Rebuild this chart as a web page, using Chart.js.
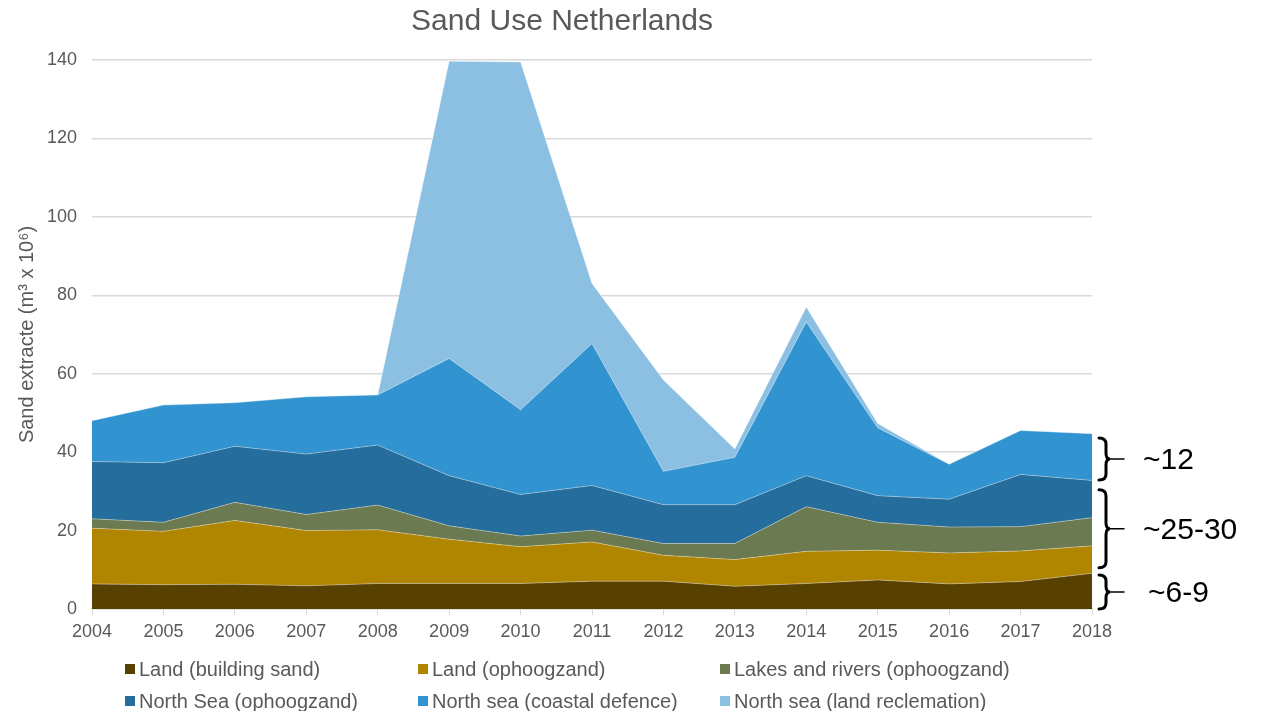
<!DOCTYPE html>
<html lang="en">
<head>
    <meta charset="UTF-8">
    <title>Sand Use Netherlands</title>
    <script src="https://cdn.jsdelivr.net/npm/chart.js"></script>
    <style>
        html, body {
            margin: 0;
            padding: 0;
            background: #ffffff;
        }
        #wrap {
            position: relative;
            width: 1266px;
            height: 711px;
        }
    </style>
</head>
<body>
    <div id="wrap">
        <canvas id="sandChart" width="1266" height="711"></canvas>
    </div>

    <script>
        // data (m3 x 10^6)
        const years = ['2004', '2005', '2006', '2007', '2008', '2009', '2010', '2011',
                       '2012', '2013', '2014', '2015', '2016', '2017', '2018'];
        const landBuilding   = [6.4, 6.2, 6.3, 5.9, 6.5, 6.5, 6.5, 7.1, 7.1, 5.8, 6.5, 7.4, 6.4, 7.0, 9.1];
        const landOphoog     = [14.2, 13.6, 16.3, 14.1, 13.7, 11.3, 9.4, 10.0, 6.6, 6.8, 8.2, 7.6, 7.9, 7.8, 7.0];
        const lakesRivers    = [2.4, 2.3, 4.6, 4.1, 6.3, 3.4, 2.7, 3.0, 3.0, 4.1, 11.4, 7.1, 6.6, 6.2, 7.2];
        const northSeaOphoog = [14.6, 15.2, 14.3, 15.4, 15.3, 12.8, 10.6, 11.4, 9.9, 9.9, 7.9, 6.8, 7.1, 13.3, 9.5];
        const coastalDefence = [10.4, 14.7, 11.1, 14.6, 12.8, 29.9, 21.6, 36.2, 8.5, 12.1, 39.2, 17.3, 8.9, 11.2, 11.9];
        const landReclaim    = [0, 0, 0, 0, 0, 75.8, 88.7, 15.3, 23.3, 2.1, 3.8, 1.1, 0, 0, 0];
        const yTicks = [0, 20, 40, 60, 80, 100, 120, 140];

        const seriesNames = ['Land (building sand)', 'Land (ophoogzand)', 'Lakes and rivers (ophoogzand)',
                             'North Sea (ophoogzand)', 'North sea (coastal defence)', 'North sea (land reclemation)'];
        const seriesData = [landBuilding, landOphoog, lakesRivers, northSeaOphoog, coastalDefence, landReclaim];
        const seriesColors = ['#584100', '#b08500', '#6b7a50', '#256d9c', '#3193d0', '#8bc0e3'];

        // bracket notes on the right side: [from, to, text]
        const braceNotes = [
            [43.6, 32.9, '~12'],
            [30.4, 10.5, '~25-30'],
            [8.7, 0, '~6-9']
        ];

        const FONT = '"Liberation Sans", Arial, sans-serif';
        const GREY = '#595959';

        const datasets = seriesData.map((d, i) => ({
            label: seriesNames[i],
            data: d,
            backgroundColor: seriesColors[i],
            borderColor: 'rgba(255,255,255,0.35)',
            borderWidth: 1,
            fill: i === 0 ? 'origin' : '-1',
            pointRadius: 0,
            tension: 0
        }));

        // title, legend and the bracket notes
        const extras = {
            id: 'extras',
            afterDraw(chart) {
                const ctx = chart.ctx;
                const y = chart.scales.y;
                ctx.save();

                ctx.fillStyle = GREY;
                ctx.font = '30px ' + FONT;
                ctx.textAlign = 'center';
                ctx.textBaseline = 'middle';
                ctx.fillText('Sand Use Netherlands', 562, 22);

                // legend, 2 rows x 3 columns
                const colX = [125, 418, 720];
                const rowY = [669, 701];
                ctx.font = '20px ' + FONT;
                ctx.textAlign = 'left';
                seriesNames.forEach((name, i) => {
                    const cx = colX[i % 3];
                    const cy = rowY[Math.floor(i / 3)];
                    ctx.fillStyle = seriesColors[i];
                    ctx.fillRect(cx, cy - 5, 10, 10);
                    ctx.fillStyle = GREY;
                    ctx.fillText(name, cx + 14, cy + 1);
                });

                // braces
                ctx.strokeStyle = '#000';
                ctx.fillStyle = '#000';
                ctx.lineWidth = 3;
                ctx.lineCap = 'round';
                ctx.font = '30px ' + FONT;
                braceNotes.forEach(([a, b, txt]) => {
                    const y1 = y.getPixelForValue(a);
                    const y2 = y.getPixelForValue(b);
                    const ym = (y1 + y2) / 2;
                    const x = 1099, w = 7, tip = 18, r = 6;
                    ctx.beginPath();
                    ctx.moveTo(x, y1);
                    ctx.quadraticCurveTo(x + w, y1, x + w, y1 + r);
                    ctx.lineTo(x + w, ym - r);
                    ctx.quadraticCurveTo(x + w, ym, x + w + 4, ym);
                    ctx.quadraticCurveTo(x + w, ym, x + w, ym + r);
                    ctx.lineTo(x + w, y2 - r);
                    ctx.quadraticCurveTo(x + w, y2, x, y2);
                    ctx.stroke();
                    ctx.lineWidth = 1.5;
                    ctx.beginPath();
                    ctx.moveTo(x + w + 2, ym);
                    ctx.lineTo(x + w + tip, ym);
                    ctx.stroke();
                    ctx.lineWidth = 3;
                    ctx.fillText(txt, txt === '~6-9' ? 1148 : 1143, ym + 2);
                });
                ctx.restore();
            }
        };

        new Chart(document.getElementById('sandChart'), {
            type: 'line',
            data: { labels: years, datasets: datasets },
            options: {
                responsive: false,
                animation: false,
                layout: { padding: { left: 0, right: 174, top: 60, bottom: 0 } },
                plugins: {
                    legend: { display: false },
                    title: { display: false },
                    tooltip: { enabled: false }
                },
                scales: {
                    x: {
                        offset: false,
                        grid: { drawOnChartArea: false, drawTicks: true, tickLength: 6, color: '#d9d9d9' },
                        border: { color: '#d9d9d9', width: 1.5 },
                        ticks: { color: GREY, font: { family: FONT, size: 18 }, padding: 6, maxRotation: 0, autoSkip: false },
                        afterFit(s) { s.height = 102; }
                    },
                    y: {
                        stacked: true,
                        min: 0,
                        max: 140,
                        afterBuildTicks(s) { s.ticks = yTicks.map(v => ({ value: v })); },
                        grid: { color: '#d9d9d9', lineWidth: 1.5, drawTicks: false },
                        border: { display: false },
                        ticks: { color: GREY, font: { family: FONT, size: 18 }, padding: 15 },
                        title: {
                            display: true,
                            text: 'Sand extracte (m\u00B3 x 10\u2076)',
                            color: GREY,
                            font: { family: FONT, size: 20 },
                            padding: { top: 15, bottom: 0 }
                        },
                        afterFit(s) { s.width = 92; }
                    }
                }
            },
            plugins: [extras]
        });
    </script>
</body>
</html>
